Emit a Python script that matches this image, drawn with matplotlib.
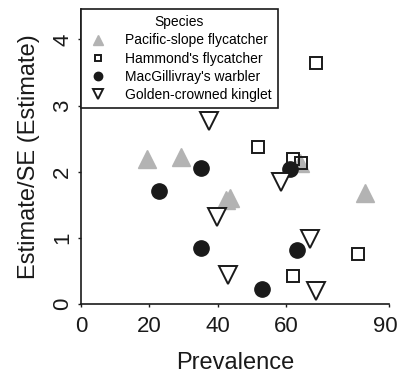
import matplotlib
matplotlib.use("Agg")
import matplotlib.pyplot as plt
import matplotlib.transforms as mtransforms

plt.rcParams["font.family"] = ["Liberation Sans", "DejaVu Sans"]

# Data
pacific_x = [19.2, 29.1, 42.5, 43.5, 64.0, 83.1]
pacific_y = [2.20, 2.22, 1.57, 1.60, 2.13, 1.68]

hammond_x = [68.8, 51.6, 62.0, 64.2, 61.9, 80.9]
hammond_y = [3.64, 2.38, 2.19, 2.13, 0.43, 0.75]

macgill_x = [22.8, 35.0, 35.0, 52.9, 61.2, 63.0]
macgill_y = [1.71, 2.05, 0.84, 0.23, 2.04, 0.82]

kinglet_x = [37.5, 39.6, 58.4, 43.0, 67.0, 68.8]
kinglet_y = [2.76, 1.31, 1.85, 0.44, 0.98, 0.19]

x_ticks = [0, 20, 40, 60, 90]
y_ticks = [0, 1, 2, 3, 4]

fig = plt.figure(figsize=(3.99, 3.74), dpi=100)
ax = fig.add_axes([0.203, 0.187, 0.772, 0.789])

ax.plot(pacific_x, pacific_y, linestyle="none", marker="^", markersize=13.5,
        color="#b3b3b3", markeredgecolor="#b3b3b3",
        label="Pacific-slope flycatcher")
ax.plot(hammond_x, hammond_y, linestyle="none", marker="s", markersize=9,
        markerfacecolor="none", markeredgecolor="#1a1a1a", markeredgewidth=1.4,
        label="Hammond's flycatcher")
ax.plot(macgill_x, macgill_y, linestyle="none", marker="o", markersize=11,
        color="#1a1a1a", label="MacGillivray's warbler")
ax.plot(kinglet_x, kinglet_y, linestyle="none", marker="v", markersize=12.5,
        markerfacecolor="white", markeredgecolor="#1a1a1a", markeredgewidth=1.4,
        label="Golden-crowned kinglet")

ax.set_xlim(0, 90)
ax.set_ylim(0, 4.46)
ax.set_xticks(x_ticks)
ax.set_yticks(y_ticks)

for side in ["top", "right"]:
    ax.spines[side].set_visible(False)
for side in ["left", "bottom"]:
    ax.spines[side].set_linewidth(1.2)
    ax.spines[side].set_color("#1a1a1a")

ax.tick_params(axis="both", direction="out", length=2.5, width=1.0,
               labelsize=16, colors="#1a1a1a")
ax.tick_params(axis="x", pad=6)
ax.tick_params(axis="y", pad=3)
for lbl in ax.get_yticklabels():
    lbl.set_rotation(90)
    lbl.set_va("center")

# last x label sits a little left of its tick so it stays inside the figure
last = ax.get_xticklabels()[-1]
last.set_transform(last.get_transform() +
                   mtransforms.ScaledTranslation(-3 / 72, 0, fig.dpi_scale_trans))

ax.set_xlabel("Prevalence", fontsize=17, color="#1a1a1a", labelpad=11)
ax.set_ylabel("Estimate/SE (Estimate)", fontsize=17, color="#1a1a1a",
              labelpad=9)

leg = ax.legend(title="Species", loc="upper left", bbox_to_anchor=(0.0, 1.0),
                borderaxespad=0, fontsize=10, title_fontsize=10,
                markerscale=0.55, handlelength=1.6, handletextpad=1.1,
                labelspacing=0.3, borderpad=0.45, fancybox=False,
                framealpha=1, edgecolor="#1a1a1a")
leg.get_frame().set_linewidth(1.2)

fig.savefig("out.png", dpi=100)
